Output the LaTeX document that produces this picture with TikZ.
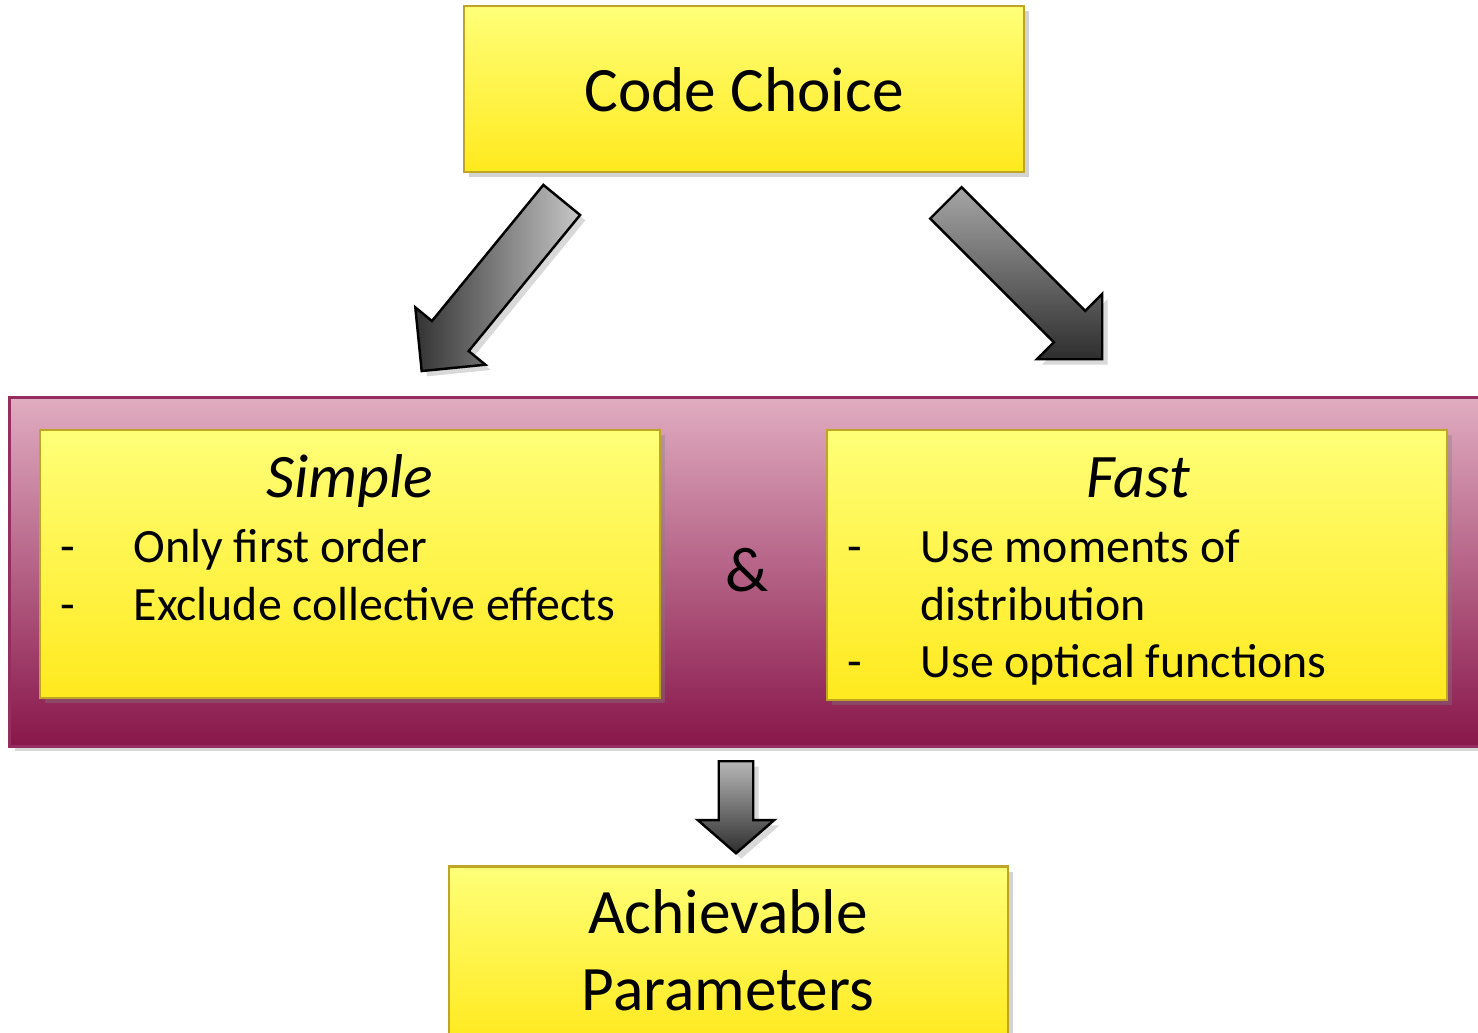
\documentclass[tikz,border=0pt]{standalone}
\usepackage{fontspec}
\setmainfont{Carlito}
\usetikzlibrary{shapes.arrows,shadows}

\definecolor{boxtop}{RGB}{255,255,120}
\definecolor{boxbot}{RGB}{255,233,30}
\definecolor{boxedge}{RGB}{190,165,35}
\definecolor{bandtop}{RGB}{224,172,192}
\definecolor{bandbot}{RGB}{136,22,74}
\definecolor{bandedge}{RGB}{150,45,95}
\newcommand{\bigtxt}{\fontsize{18}{21.8}\selectfont}
\newcommand{\subtxt}{\fontsize{17.6}{21}\selectfont\itshape}
\newcommand{\itemtxt}{\fontsize{13.6}{16.5}\selectfont}

\tikzset{
  ybox/.style={draw=boxedge, line width=0.6pt, top color=boxtop, bottom color=boxbot,
    inner sep=0pt, drop shadow={shadow xshift=1.5pt, shadow yshift=-1.5pt, opacity=0.35}},
  band/.style={draw=bandedge, line width=0.8pt, top color=bandtop, bottom color=bandbot,
    inner sep=0pt, drop shadow={shadow xshift=1.5pt, shadow yshift=-1.5pt, opacity=0.3}},
  garrow/.style={single arrow, draw=black, line width=0.7pt, inner xsep=0pt, anchor=tail,
    single arrow head indent=0pt,
    drop shadow={shadow xshift=1.5pt, shadow yshift=-1.5pt, opacity=0.3}},
  item/.style={anchor=base west, inner sep=0pt, font=\itemtxt}
}

\begin{document}
\begin{tikzpicture}[x=0.01cm, y=-0.01cm]
  \useasboundingbox (0,0) rectangle (1478,1033);

  % pink band behind the two choices
  \node[band, minimum width=14.8cm, minimum height=3.48cm] (band) at (750,572) {};

  % boxes
  \node[ybox, minimum width=5.6cm, minimum height=1.66cm] (code) at (744,89) {};
  \node[ybox, minimum width=6.2cm, minimum height=2.68cm] (simple) at (350,564) {};
  \node[ybox, minimum width=6.2cm, minimum height=2.70cm] (fast) at (1137,565) {};
  \node[ybox, minimum width=5.59cm, minimum height=1.75cm] (param) at (728.5,954) {};

  % block arrows (shaft width = 2 * inner ysep), placed by their tails
  \node[garrow, rotate=230.7, minimum height=2.21cm, inner ysep=0.225cm,
    single arrow head extend=0.215cm, left color=black!80, right color=black!22]
    (toSimple) at (562.5,199) {};
  \node[garrow, rotate=-45, minimum height=2.21cm, inner ysep=0.21cm,
    single arrow head extend=0.24cm, top color=black!35, bottom color=black!82]
    (toFast) at (945,202) {};
  \node[garrow, rotate=-90, minimum height=0.92cm, inner ysep=0.16cm,
    single arrow head extend=0.21cm, single arrow tip angle=98,
    top color=black!28, bottom color=black!82] (toParam) at (736,760) {};

  % texts
  \node[font=\bigtxt, anchor=base, inner sep=0pt] (codet) at (744,111) {Code Choice};
  \node[font=\bigtxt, anchor=base, inner sep=0pt, align=center] (paramt) at (728,1010)
    {Achievable\\Parameters};

  \node[font=\subtxt, anchor=base, inner sep=0pt] (simplet) at (350,497) {Simple};
  \node[item] (s1) at (133,562) {Only first order};
  \node[item] (s2) at (133,620) {Exclude collective effects};
  \node[item] (s1d) at (60,562) {-};
  \node[item] (s2d) at (60,620) {-};

  \node[font=\subtxt, anchor=base, inner sep=0pt] (fastt) at (1138,497) {Fast};
  \node[item] (f1) at (920,562) {Use moments of};
  \node[item] (f1b) at (920,620) {distribution};
  \node[item] (f2) at (920,677) {Use optical functions};
  \node[item] (f1d) at (847,562) {-};
  \node[item] (f2d) at (847,677) {-};

  \node[font=\bigtxt, inner sep=0pt] (amp) at (747,570) {\&};
\end{tikzpicture}
\end{document}
